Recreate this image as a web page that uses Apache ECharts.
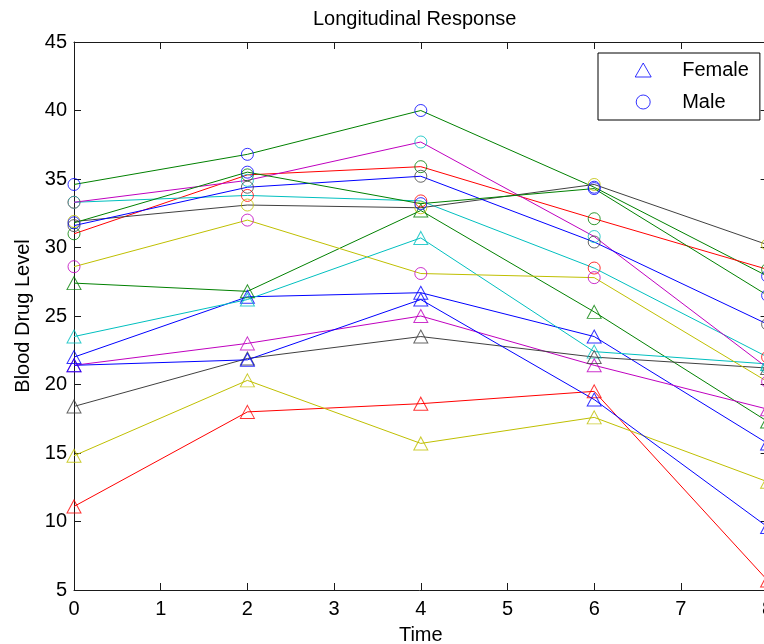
<!DOCTYPE html>
<html>
<head>
<meta charset="utf-8">
<script src="https://cdn.jsdelivr.net/npm/echarts@6/dist/echarts.min.js"></script>
<style>
html,body{margin:0;padding:0;background:#fff;}
#chart{width:764px;height:644px;}
</style>
</head>
<body>
<div id="chart"></div>
<script>
// ---- data ----
const times = [0, 2, 4, 6, 8];
const xTicks = [0, 1, 2, 3, 4, 5, 6, 7, 8];
const yTicks = [5, 10, 15, 20, 25, 30, 35, 40, 45];
const female1 = [22.0, 26.4, 26.7, 23.5, 15.7];
const female2 = [27.4, 26.8, 32.7, 25.3, 17.3];
const female3 = [11.1, 18.0, 18.6, 19.5, 5.7];
const female4 = [23.5, 26.2, 30.7, 22.4, 21.5];
const female5 = [21.4, 23.0, 25.0, 21.4, 18.2];
const female6 = [14.8, 20.3, 15.7, 17.6, 12.9];
const female7 = [18.4, 21.9, 23.5, 22.0, 21.2];
const female8 = [21.4, 21.8, 26.2, 18.9, 9.6];
const male1 = [34.6, 36.8, 40.0, 34.4, 27.9];
const male2 = [31.0, 35.3, 35.9, 32.1, 28.4];
const male3 = [33.3, 33.8, 33.4, 28.5, 22.0];
const male4 = [33.3, 34.9, 37.7, 30.8, 21.2];
const male5 = [28.6, 32.0, 28.1, 27.8, 20.2];
const male6 = [31.9, 33.1, 32.9, 34.6, 30.2];
const male7 = [31.6, 34.4, 35.2, 30.4, 24.4];
const male8 = [31.8, 35.5, 33.2, 34.3, 26.5];
const femaleRows = [female1, female2, female3, female4, female5, female6, female7, female8];
const maleRows = [male1, male2, male3, male4, male5, male6, male7, male8];
const groupNames = ['Female', 'Male'];

// ---- styles ----
const colorOrder = ['#0000FF', '#008000', '#FF0000', '#00BFBF', '#BF00BF', '#BFBF00', '#404040'];
const FONT = "'Liberation Sans', Arial, sans-serif";
const AXIS_COLOR = '#1a1a1a';

const toPoints = row => times.map((t, i) => [t, row[i]]);
const series = [];
const allRows = femaleRows.concat(maleRows);
allRows.forEach((row, k) => {
  series.push({
    type: 'line', name: 'subject' + (k + 1), data: toPoints(row),
    symbol: 'none', silent: true, z: 2,
    lineStyle: { color: colorOrder[k % 7], width: 1 }
  });
});
femaleRows.forEach((row, k) => {
  series.push({
    type: 'scatter', name: groupNames[0], data: toPoints(row), silent: true, z: 3,
    symbol: 'triangle', symbolSize: [14, 13],
    itemStyle: { color: 'rgba(0,0,0,0)', borderColor: colorOrder[k % 7], borderWidth: 1 }
  });
});
maleRows.forEach((row, k) => {
  series.push({
    type: 'scatter', name: groupNames[1], data: toPoints(row), silent: true, z: 3,
    symbol: 'circle', symbolSize: 12,
    itemStyle: { color: 'rgba(0,0,0,0)', borderColor: colorOrder[k % 7], borderWidth: 1 }
  });
});

const axisCommon = {
  axisLine: { show: true, onZero: false, lineStyle: { color: AXIS_COLOR, width: 1 } },
  axisTick: { show: true, inside: true, length: 7, lineStyle: { color: AXIS_COLOR, width: 1 } },
  splitLine: { show: false }
};

const chart = echarts.init(document.getElementById('chart'), null, { renderer: 'canvas' });
chart.setOption({
  animation: false,
  backgroundColor: '#fff',
  title: {
    text: 'Longitudinal Response', left: 313, top: 9, padding: 0,
    textStyle: { fontFamily: FONT, fontSize: 20, fontWeight: 'normal', color: '#000' }
  },
  grid: { left: 74, top: 42, width: 693.6, height: 548, containLabel: false, outerBoundsMode: 'none' },
  legend: {
    orient: 'vertical', left: 598, top: 53, padding: [7, 11, 8, 36.7], itemGap: 12,
    itemWidth: 68, itemHeight: 14, backgroundColor: '#fff', borderColor: '#000', borderWidth: 1,
    selectedMode: false, z: 10,
    textStyle: { fontFamily: FONT, fontSize: 20, color: '#000' },
    data: [
      { name: groupNames[0], icon: 'path://M8,0L16,14L0,14Z',
        itemStyle: { color: 'rgba(0,0,0,0)', borderColor: colorOrder[0], borderWidth: 1 } },
      { name: groupNames[1], icon: 'circle',
        itemStyle: { color: 'rgba(0,0,0,0)', borderColor: colorOrder[0], borderWidth: 1 } }
    ]
  },
  xAxis: [
    Object.assign({
      type: 'value', position: 'bottom', min: xTicks[0], max: xTicks[xTicks.length - 1], interval: 1,
      name: 'Time', nameLocation: 'middle', nameGap: 35,
      nameTextStyle: { fontFamily: FONT, fontSize: 20, color: '#000' },
      axisLabel: { show: true, margin: 9, fontFamily: FONT, fontSize: 20, color: '#000' }
    }, axisCommon),
    Object.assign({
      type: 'value', position: 'top', min: xTicks[0], max: xTicks[xTicks.length - 1], interval: 1,
      axisLabel: { show: false }
    }, axisCommon)
  ],
  yAxis: [
    Object.assign({
      type: 'value', position: 'left', min: yTicks[0], max: yTicks[yTicks.length - 1], interval: 5,
      name: 'Blood Drug Level', nameLocation: 'middle', nameGap: 41,
      nameTextStyle: { fontFamily: FONT, fontSize: 20, color: '#000' },
      axisLabel: { show: true, margin: 7, fontFamily: FONT, fontSize: 20, color: '#000' }
    }, axisCommon),
    Object.assign({
      type: 'value', position: 'right', min: yTicks[0], max: yTicks[yTicks.length - 1], interval: 5,
      axisLabel: { show: false }
    }, axisCommon)
  ],
  series: series
});
</script>
</body>
</html>
